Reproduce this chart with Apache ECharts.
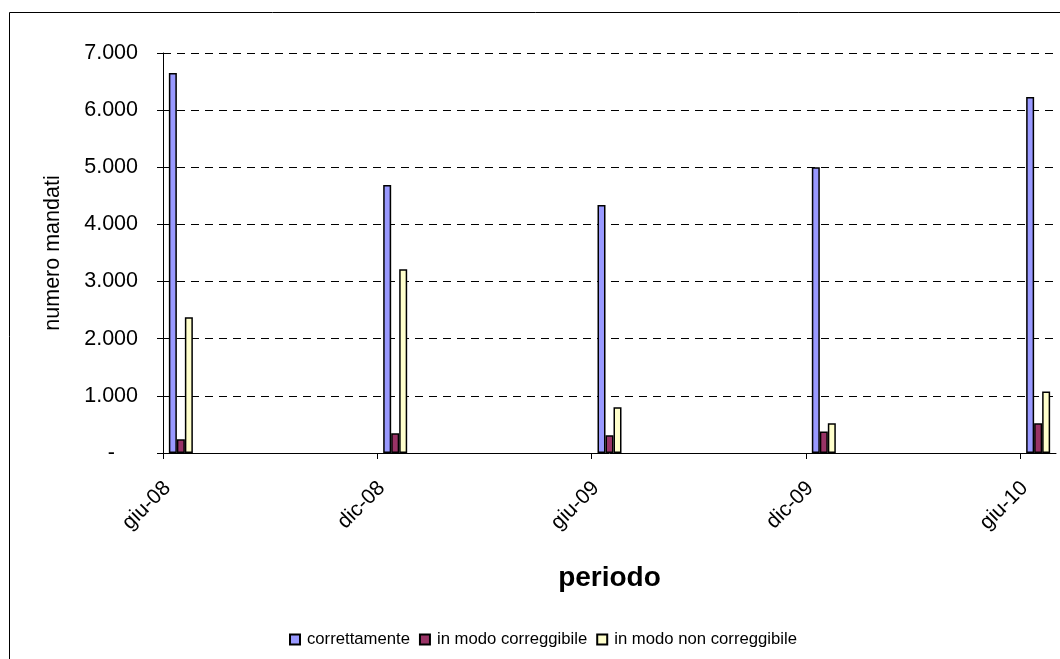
<!DOCTYPE html>
<html>
<head>
<meta charset="utf-8">
<title>Mandati per periodo</title>
<script src="https://cdn.jsdelivr.net/npm/echarts@6/dist/echarts.min.js"></script>
<style>
  html, body { margin: 0; padding: 0; background: #fff; }
  #chart { width: 1060px; height: 659px; }
</style>
</head>
<body>
<div id="chart"></div>
<script>
// Monthly date axis: June 2008 .. June 2010, labelled every six months
const monthNames = ['gen', 'feb', 'mar', 'apr', 'mag', 'giu', 'lug', 'ago', 'set', 'ott', 'nov', 'dic'];
const periods = ['giu-08', 'dic-08', 'giu-09', 'dic-09', 'giu-10'];

// Number of mandates per period
const correttamente = [6650, 4690, 4340, 5000, 6230];
const modoCorreggibile = [240, 345, 310, 375, 520];
const modoNonCorreggibile = [2375, 3215, 800, 520, 1075];

// Build the list of months between the first and last period
const months = [];
(function () {
  let m = 5, y = 8; // giu-08
  while (true) {
    const label = monthNames[m] + '-' + String(y).padStart(2, '0');
    months.push(label);
    if (label === periods[periods.length - 1]) break;
    m++;
    if (m === 12) { m = 0; y++; }
  }
})();

const periodIndex = periods.map(p => months.indexOf(p));

function onMonths(values) {
  const out = months.map(() => '-');
  periodIndex.forEach((idx, i) => { out[idx] = values[i]; });
  return out;
}

function fmtThousands(v) {
  if (v === 0) return '{z|-}';
  return String(v).replace(/\B(?=(\d{3})+(?!\d))/g, '.');
}

const font = 'Arial, "Liberation Sans", sans-serif';
const chart = echarts.init(document.getElementById('chart'), null, { renderer: 'canvas' });

const barBase = { type: 'bar', barWidth: 8, barGap: '0%', xAxisIndex: 0, yAxisIndex: 0 };
// rotated period labels sit a few pixels right of their tick
const labelNudge = 0.12;

chart.setOption({
  animation: false,
  backgroundColor: '#ffffff',
  textStyle: { fontFamily: font },
  graphic: [{
    type: 'rect',
    shape: { x: 9.5, y: 12.5, width: 1200, height: 800 },
    style: { fill: 'none', stroke: '#000', lineWidth: 1 },
    silent: true, z: -10
  }],
  grid: {
    left: 163, right: 4, top: 53, bottom: 206,
    containLabel: false, outerBoundsMode: 'none'
  },
  legend: {
    left: 289, top: 631, padding: 0,
    itemWidth: 10, itemHeight: 10, itemGap: 9,
    icon: 'rect',
    textStyle: { fontFamily: font, fontSize: 16.7, color: '#000', padding: [0, 0, 0, 2] },
    data: ['correttamente', 'in modo correggibile', 'in modo non correggibile']
  },
  xAxis: [{
    type: 'category',
    data: months,
    boundaryGap: true,
    axisLine: { lineStyle: { color: '#000', width: 1 } },
    axisTick: { show: false },
    axisLabel: { show: false },
    splitLine: { show: false },
    name: 'periodo',
    nameLocation: 'middle',
    nameGap: 111,
    nameTextStyle: { fontFamily: font, fontSize: 28, fontWeight: 'bold', color: '#000' }
  }, {
    // tick marks at the start of each labelled month
    type: 'value',
    position: 'bottom',
    min: 0,
    max: months.length,
    interval: 6,
    axisLine: { show: false },
    axisTick: {
      show: true, inside: false, length: 6,
      customValues: periodIndex,
      lineStyle: { color: '#000', width: 1 }
    },
    axisLabel: { show: false },
    splitLine: { show: false }
  }, {
    // period labels
    type: 'value',
    position: 'bottom',
    min: -labelNudge,
    max: months.length - labelNudge,
    interval: 6,
    axisLine: { show: false },
    axisTick: { show: false },
    axisLabel: {
      show: true,
      customValues: periodIndex,
      rotate: 45,
      margin: 32,
      fontFamily: font,
      fontSize: 21,
      color: '#000',
      formatter: v => months[v] || ''
    },
    splitLine: { show: false }
  }],
  yAxis: {
    type: 'value',
    min: 0, max: 7000, interval: 1000,
    axisLine: { show: true, lineStyle: { color: '#000', width: 1 } },
    axisTick: { show: true, inside: false, length: 6, lineStyle: { color: '#000' } },
    axisLabel: {
      margin: 25,
      fontFamily: font, fontSize: 21.5, color: '#000',
      formatter: fmtThousands,
      rich: { z: { fontFamily: font, fontSize: 21.5, color: '#000', padding: [0, 23, 0, 0] } }
    },
    splitLine: { show: true, lineStyle: { color: '#000', type: [8, 6], width: 1 } },
    name: 'numero mandati',
    nameLocation: 'middle',
    nameGap: 99,
    nameRotate: 90,
    nameTextStyle: { fontFamily: font, fontSize: 21.5, color: '#000' }
  },
  series: [
    Object.assign({}, barBase, {
      name: 'correttamente',
      data: onMonths(correttamente),
      itemStyle: { color: '#9999FF', borderColor: '#000', borderWidth: 1.5 }
    }),
    Object.assign({}, barBase, {
      name: 'in modo correggibile',
      data: onMonths(modoCorreggibile),
      itemStyle: { color: '#993366', borderColor: '#000', borderWidth: 1.5 }
    }),
    Object.assign({}, barBase, {
      name: 'in modo non correggibile',
      data: onMonths(modoNonCorreggibile),
      itemStyle: { color: '#FFFFCC', borderColor: '#000', borderWidth: 1.5 }
    })
  ]
});
</script>
</body>
</html>
